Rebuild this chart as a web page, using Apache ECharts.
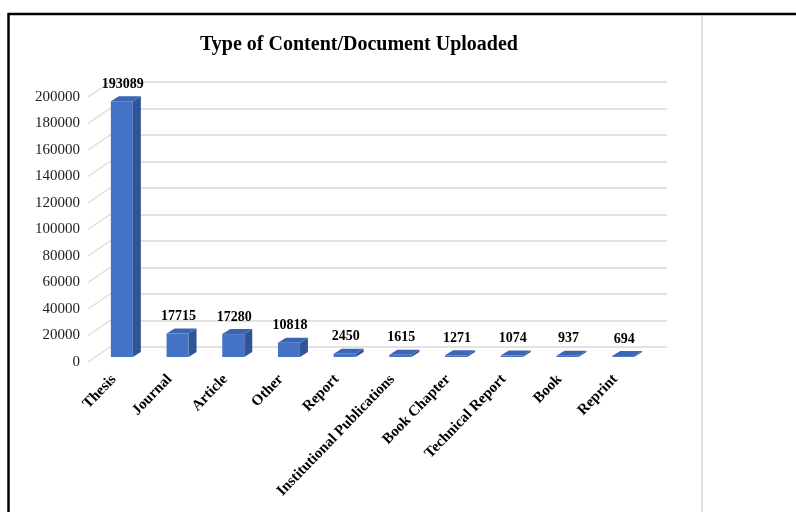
<!DOCTYPE html>
<html>
<head>
<meta charset="utf-8">
<script src="https://cdn.jsdelivr.net/npm/echarts@6/dist/echarts.min.js"></script>
<style>
  html, body { margin: 0; padding: 0; background: #fff; }
  #chart { width: 796px; height: 512px; }
</style>
</head>
<body>
<div id="chart"></div>
<script>
// Upload counts by content type
const categories = ['Thesis', 'Journal', 'Article', 'Other', 'Report',
  'Institutional Publications', 'Book Chapter', 'Technical Report', 'Book', 'Reprint'];
const uploads = [193089, 17715, 17280, 10818, 2450, 1615, 1271, 1074, 937, 694];
const yTicks = [0, 20000, 40000, 60000, 80000, 100000, 120000, 140000, 160000, 180000, 200000];

const SERIF = '"Liberation Serif", "Times New Roman", serif';

// Perspective: back wall (grid 0) vs front plane (grid 1)
const FLOOR_DX = -22, FLOOR_DY = 15;   // back wall -> front plane
const BAR_DX = -16, BAR_DY = 10;       // back wall -> bar front face
const BAR_W = 22, DEPTH_X = 8, DEPTH_Y = -5;

const chart = echarts.init(document.getElementById('chart'));

function renderBar(params, api) {
  const i = api.value(0), v = api.value(1);
  const base = api.coord([i, 0]);
  const top = api.coord([i, v]);
  const cx = base[0] + BAR_DX;
  const l = cx - BAR_W / 2, r = cx + BAR_W / 2;
  const yb = base[1] + BAR_DY, yt = top[1] + BAR_DY;
  return {
    type: 'group',
    children: [
      { type: 'polygon', shape: { points: [[r, yb], [r, yt], [r + DEPTH_X, yt + DEPTH_Y], [r + DEPTH_X, yb + DEPTH_Y]] },
        style: { fill: '#2f5597' } },
      { type: 'polygon', shape: { points: [[l, yt], [r, yt], [r + DEPTH_X, yt + DEPTH_Y], [l + DEPTH_X, yt + DEPTH_Y]] },
        style: { fill: '#3d66b2' } },
      { type: 'rect', shape: { x: l, y: yt, width: BAR_W, height: Math.max(yb - yt, 0.8) },
        style: { fill: '#4472c4' } },
      { type: 'text', style: { text: String(v), x: cx + 1, y: yt - 17, align: 'center', verticalAlign: 'middle',
        fontSize: 14, fontWeight: 'bold', fontFamily: SERIF, fill: '#000' } }
    ]
  };
}

function renderDiagonal(params, api) {
  const p = api.coord([0, api.value(1)]);
  const half = api.size([1, 0])[0] / 2;
  const bx = p[0] - half;
  return {
    type: 'line',
    shape: { x1: bx + FLOOR_DX, y1: p[1] + FLOOR_DY, x2: bx, y2: p[1] },
    style: { stroke: '#dcdcdc', lineWidth: 1.5 }
  };
}

chart.setOption({
  animation: false,
  backgroundColor: '#fff',
  title: {
    text: 'Type of Content/Document Uploaded',
    left: 354, top: 30, textAlign: 'center',
    textStyle: { fontFamily: SERIF, fontSize: 20, fontWeight: 'bold', color: '#000' }
  },
  grid: [
    { left: 110, right: 129, top: 82, bottom: 165 },
    { left: 86, right: 153, top: 97, bottom: 150 }
  ],
  xAxis: [
    { gridIndex: 0, type: 'category', data: categories,
      axisLine: { show: false }, axisTick: { show: false }, axisLabel: { show: false } },
    { gridIndex: 1, type: 'category', data: categories,
      axisLine: { show: false }, axisTick: { show: false },
      axisLabel: { interval: 0, rotate: 46, margin: 15, fontFamily: SERIF, fontSize: 15,
        fontWeight: 'bold', color: '#000' } }
  ],
  yAxis: [
    { gridIndex: 0, type: 'value', min: 0, max: 200000, interval: 20000,
      axisLine: { show: false }, axisTick: { show: false }, axisLabel: { show: false },
      splitLine: { lineStyle: { color: '#e2e2e2', width: 2 } } },
    { gridIndex: 1, type: 'value', min: 0, max: 200000, interval: 20000,
      axisLine: { show: false }, axisTick: { show: false }, splitLine: { show: false },
      axisLabel: { margin: 6, fontFamily: SERIF, fontSize: 15, color: '#222',
        formatter: v => String(v) } }
  ],
  series: [
    { type: 'custom', xAxisIndex: 0, yAxisIndex: 0, renderItem: renderDiagonal,
      data: yTicks.map(v => [0, v]), silent: true },
    { type: 'custom', xAxisIndex: 0, yAxisIndex: 0, renderItem: renderBar,
      data: uploads.map((v, i) => [i, v]), encode: { x: 0, y: 1 } }
  ],
  graphic: [
    { type: 'line', shape: { x1: 8, y1: 14, x2: 796, y2: 14 }, style: { stroke: '#000', lineWidth: 2.5 } },
    { type: 'line', shape: { x1: 8.5, y1: 13, x2: 8.5, y2: 512 }, style: { stroke: '#000', lineWidth: 2.5 } },
    { type: 'line', shape: { x1: 702, y1: 15, x2: 702, y2: 512 }, style: { stroke: '#d9d9d9', lineWidth: 1.5 } }
  ]
});
</script>
</body>
</html>
